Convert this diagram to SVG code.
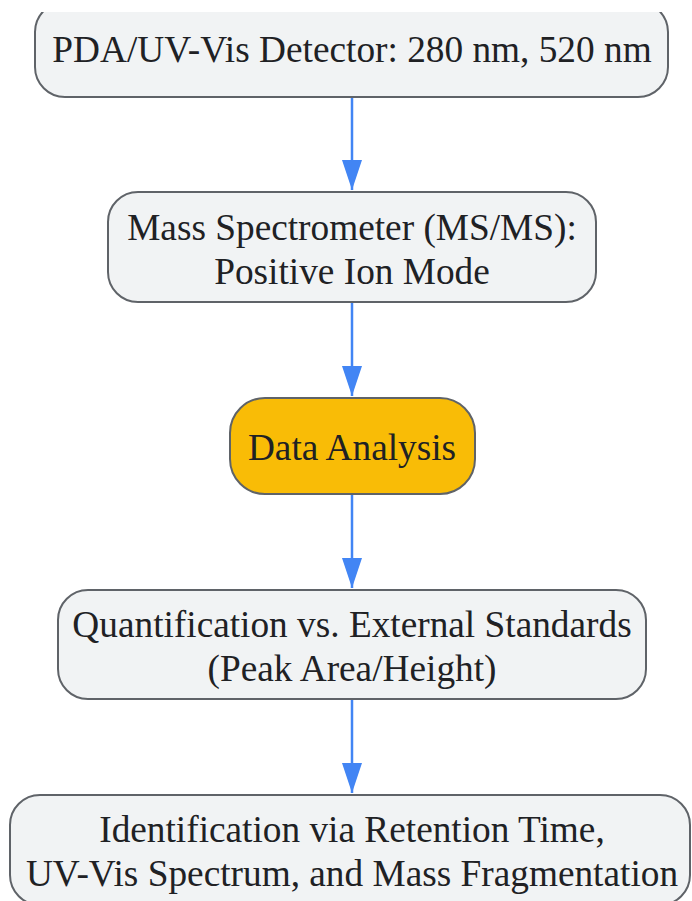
<svg xmlns="http://www.w3.org/2000/svg" width="692" height="901" viewBox="0 0 692 901">
<style>
.node{fill:#f1f3f4;stroke:#5f6368;stroke-width:2}
.hl{fill:#f9bc06;stroke:#5f6368;stroke-width:2}
.t{font-family:"Liberation Serif","Times New Roman",serif;font-size:37.3px;fill:#202124;text-anchor:middle}
.e{stroke:#4285f4;stroke-width:2.5;fill:none}
</style>
<defs>
<marker id="ah" markerWidth="30" markerHeight="20" refX="30" refY="10" orient="auto" markerUnits="userSpaceOnUse" viewBox="0 0 30 20">
<path d="M0,0 L30,10 L0,20 Z" fill="#4285f4"/>
</marker>
<clipPath id="topclip"><rect x="0" y="12" width="692" height="889"/></clipPath>
</defs>
<g id="connectors">
<line class="e" x1="352" y1="97" x2="352" y2="190" marker-end="url(#ah)"/>
<line class="e" x1="352" y1="302" x2="352" y2="396" marker-end="url(#ah)"/>
<line class="e" x1="352" y1="494" x2="352" y2="588" marker-end="url(#ah)"/>
<line class="e" x1="352" y1="699" x2="352" y2="793" marker-end="url(#ah)"/>
</g>
<g id="n1" clip-path="url(#topclip)">
<rect class="node" x="35" y="2" width="633" height="95" rx="30"/>
<text class="t" x="352" y="62">PDA/UV-Vis Detector: 280 nm, 520 nm</text>
</g>
<g id="n2">
<rect class="node" x="108" y="192" width="488" height="110" rx="30"/>
<text class="t" x="352" y="240">Mass Spectrometer (MS/MS):</text>
<text class="t" x="352" y="284">Positive Ion Mode</text>
</g>
<g id="n3">
<rect class="hl" x="230" y="398" width="245" height="96" rx="35"/>
<text class="t" x="352" y="460">Data Analysis</text>
</g>
<g id="n4">
<rect class="node" x="58" y="590" width="588" height="109" rx="30"/>
<text class="t" x="352" y="637">Quantification vs. External Standards</text>
<text class="t" x="352" y="681">(Peak Area/Height)</text>
</g>
<g id="n5">
<rect class="node" x="10" y="795" width="680" height="110" rx="30"/>
<text class="t" x="352" y="842">Identification via Retention Time,</text>
<text class="t" x="352" y="886">UV-Vis Spectrum, and Mass Fragmentation</text>
</g>
</svg>
